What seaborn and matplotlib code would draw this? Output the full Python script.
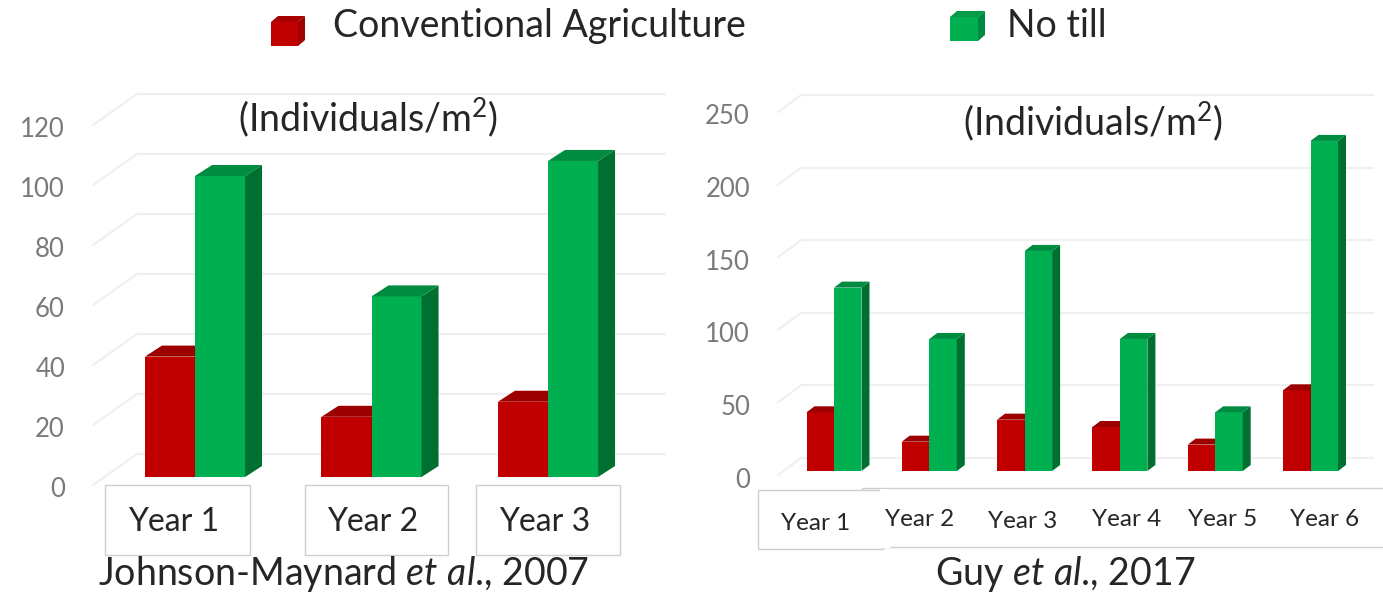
import matplotlib
matplotlib.use("Agg")
import matplotlib.pyplot as plt
from matplotlib.patches import Polygon, Rectangle
from matplotlib.lines import Line2D
from matplotlib.transforms import Affine2D, ScaledTranslation
import pandas as pd
import seaborn as sns

# Series values
treatments = ["Conventional Agriculture", "No till"]
years_a = ["Year 1", "Year 2", "Year 3"]
conventional_a = [40, 20, 25]
no_till_a = [100, 60, 105]
years_b = ["Year 1", "Year 2", "Year 3", "Year 4", "Year 5", "Year 6"]
conventional_b = [40, 20, 35, 30, 18, 55]
no_till_b = [125, 90, 150, 90, 40, 225]
ticks_a = [0, 20, 40, 60, 80, 100, 120]
ticks_b = [0, 50, 100, 150, 200, 250]
unit_title = "(Individuals/m$^{2}$)"
source_a = r"Johnson-Maynard $\mathit{et\ al}$., 2007"
source_b = r"Guy $\mathit{et\ al}$., 2017"

W, H = 1383, 592
FONT = "Lato"
RED = "#C00000"
RED_TOP = "#9C0000"
RED_SIDE = "#7E0000"
GREEN = "#00B050"
GREEN_TOP = "#008C40"
GREEN_SIDE = "#007030"
TICK_GREY = "#7A7A7A"
TEXT = "#262626"
GRID = "#F0F0F0"
BOX = "#CFCFCF"

sns.set_theme(style="white")
plt.rcParams["font.family"] = [FONT, "DejaVu Sans"]
plt.rcParams["mathtext.fontset"] = "custom"
plt.rcParams["mathtext.rm"] = FONT
plt.rcParams["mathtext.it"] = FONT + ":italic"
plt.rcParams["mathtext.default"] = "regular"

fig = plt.figure(figsize=(W / 100, H / 100), dpi=100, facecolor="white")
# Top-left pixel coordinates for annotations
px = Affine2D().scale(1, -1).translate(0, H) + Affine2D().scale(1 / W, 1 / H) + fig.transFigure


def shifted(dx, dy):
    return ScaledTranslation(dx / 100, -dy / 100, fig.dpi_scale_trans)


def panel(years, conv, till, ticks, layout):
    spacing, x0, base, ppu, top = (layout[k] for k in ("spacing", "x0", "base", "ppu", "top"))
    left = x0 - spacing / 2
    right = left + spacing * len(years)
    bottom_f = (H - base) / H
    height_f = top * ppu / H
    ax = fig.add_axes([left / W, bottom_f, (right - left) / W, height_f])
    ax.patch.set_alpha(0)

    frame = pd.DataFrame({
        "year": years * 2,
        "treatment": [treatments[0]] * len(years) + [treatments[1]] * len(years),
        "count": list(conv) + list(till),
    })
    sns.barplot(data=frame, x="year", y="count", hue="treatment", hue_order=treatments,
                palette=[RED, GREEN], saturation=1, width=layout["width"], gap=0,
                legend=False, ax=ax, linewidth=0, zorder=3)
    ax.set_xlim(-0.5, len(years) - 0.5)
    ax.set_ylim(0, top)
    ax.set_xlabel("")
    ax.set_ylabel("")
    sns.despine(ax=ax, left=True, bottom=True)

    # Extruded side and top faces derived from each bar's geometry
    ddx = layout["depth_x"] / spacing
    ddy = layout["depth_y"] / ppu
    for i, bar in enumerate(ax.patches):
        green = i >= len(years)
        z = 4 if green else 3
        bar.set_zorder(z)
        x0b, w, h = bar.get_x(), bar.get_width(), bar.get_height()
        x1b = x0b + w
        ax.add_patch(Polygon([(x1b, 0), (x1b + ddx, ddy), (x1b + ddx, h + ddy), (x1b, h)],
                             fc=GREEN_SIDE if green else RED_SIDE, lw=0, clip_on=False, zorder=z))
        ax.add_patch(Polygon([(x0b, h), (x0b + ddx, h + ddy), (x1b + ddx, h + ddy), (x1b, h)],
                             fc=GREEN_TOP if green else RED_TOP, lw=0, clip_on=False, zorder=z))

    # Back wall and floor rules
    for t in ticks:
        y_back = base - layout["back_ppu"] * t - layout["back_rise"]
        y_front = y_back + layout["diag_drop"]
        kw = dict(transform=px, color=GRID, lw=1.6, zorder=-1)
        fig.add_artist(Line2D([layout["wall_x"], layout["wall_end"]], [y_back, y_back], **kw))
        fig.add_artist(Line2D([layout["diag_x"], layout["wall_x"]], [y_front, y_back], **kw))

    # Value axis
    ax.set_yticks(ticks)
    ax.tick_params(axis="y", length=0, pad=(left - layout["label_right"]) * 0.72,
                   labelsize=layout["ytick_size"], labelcolor=TICK_GREY)
    for tick, lab in zip(ticks, ax.get_yticklabels()):
        target = layout["ylab_base"] - layout["ylab_ppu"] * tick
        current = base - ppu * tick
        lab.set_transform(lab.get_transform() + shifted(0, target - current))

    # Category labels sit at their own hand-placed positions
    ax.set_xticks(range(len(years)))
    ax.set_xticklabels(years)
    ax.tick_params(axis="x", length=0, pad=0, labelsize=layout["xtick_size"], labelcolor=TEXT)
    for i, lab in enumerate(ax.get_xticklabels()):
        lx, ly = layout["xlabels"][i]
        lab.set_va("center")
        lab.set_transform(lab.get_transform() + shifted(lx - (x0 + spacing * i), ly - base))
    return ax


layout_a = dict(spacing=176.5, x0=195, base=477, ppu=3.01, top=130, width=0.567,
                depth_x=17, depth_y=11, back_ppu=3.0, back_rise=23, diag_drop=31,
                wall_x=137, wall_end=665, diag_x=93, label_right=65, ylab_base=487,
                ylab_ppu=3.0, ytick_size=18.5, xtick_size=23,
                xlabels=[(174, 522), (373, 522), (545, 522)])
layout_b = dict(spacing=95.3, x0=834, base=471, ppu=1.467, top=260, width=0.577,
                depth_x=8, depth_y=6, back_ppu=1.452, back_rise=13, diag_drop=17,
                wall_x=801, wall_end=1373, diag_x=778, label_right=750, ylab_base=478,
                ylab_ppu=1.456, ytick_size=18.5, xtick_size=17.5,
                xlabels=[(816, 523), (920, 520), (1023, 522), (1127, 520), (1223, 520), (1325, 520)])

panel(years_a, conventional_a, no_till_a, ticks_a, layout_a)
panel(years_b, conventional_b, no_till_b, ticks_b, layout_b)

# Frames behind the category labels
for x, w in [(105, 145), (305, 143), (476, 144)]:
    fig.add_artist(Rectangle((x, 485), w, 70, transform=px, fc="white", ec=BOX, lw=1, zorder=-0.5))
fig.add_artist(Rectangle((862, 488), 530, 59, transform=px, fc="white", ec=BOX, lw=1, zorder=-0.6))
fig.add_artist(Rectangle((758, 490), 125, 59, transform=px, fc="white", ec=BOX, lw=1, zorder=-0.5))
fig.add_artist(Rectangle((880, 489), 10, 59, transform=px, fc="white", lw=0, zorder=-0.4))

# Unit captions and sources
fig.text(368, 117, unit_title, transform=px, ha="center", va="center", fontsize=27, color=TEXT)
fig.text(1093, 121, unit_title, transform=px, ha="center", va="center", fontsize=27, color=TEXT)
fig.text(344, 574, source_a, transform=px, ha="center", va="center", fontsize=27, color=TEXT)
fig.text(1065, 574, source_b, transform=px, ha="center", va="center", fontsize=27, color=TEXT)


def cube(x, y, w, h, dx, dy, front, top, side):
    fig.add_artist(Rectangle((x, y), w, h, transform=px, fc=front, lw=0))
    fig.add_artist(Polygon([(x, y), (x + dx, y - dy), (x + w + dx, y - dy), (x + w, y)],
                           transform=px, fc=top, lw=0))
    fig.add_artist(Polygon([(x + w, y), (x + w + dx, y - dy), (x + w + dx, y + h - dy), (x + w, y + h)],
                           transform=px, fc=side, lw=0))


# Legend
cube(271, 22, 27, 24, 7, 6, RED, "#A80000", "#A00000")
cube(950, 17, 28, 24, 7, 6, GREEN, "#009A48", "#008C40")
fig.text(333, 26, treatments[0], transform=px, ha="left", va="center", fontsize=27, color=TEXT)
fig.text(1007, 26, treatments[1], transform=px, ha="left", va="center", fontsize=27, color=TEXT)

fig.savefig("out.png", dpi=100, facecolor="white")
